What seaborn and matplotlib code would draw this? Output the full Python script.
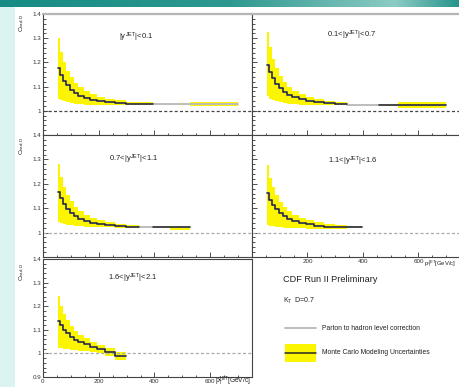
import numpy as np
import seaborn as sns
import matplotlib
matplotlib.use("Agg")
import matplotlib.pyplot as plt
from matplotlib.ticker import MultipleLocator, FuncFormatter, NullFormatter, FixedLocator
from matplotlib.patches import Rectangle
from matplotlib.lines import Line2D
from matplotlib.colors import LinearSegmentedColormap

# ---------------- data ----------------
edges = [54, 62, 72, 83, 96, 110, 127, 146, 169, 195, 224, 259, 298, 344, 396, 457, 527, 700]
nan = np.nan

region_labels = [r"$|y^{JET}|$<0.1", r"0.1<$|y^{JET}|$<0.7", r"0.7<$|y^{JET}|$<1.1",
                 r"1.1<$|y^{JET}|$<1.6", r"1.6<$|y^{JET}|$<2.1"]

# |y|<0.1
p1_mc = [1.176, 1.150, 1.125, 1.105, 1.088, 1.073, 1.062, 1.053, 1.046, 1.040, 1.036, 1.032, 1.030, 1.030, nan, nan, nan]
p1_had = [1.176, 1.150, 1.125, 1.105, 1.088, 1.073, 1.062, 1.053, 1.046, 1.040, 1.036, 1.032, 1.030, 1.030, 1.029, 1.029, 1.028]
p1_up = [1.300, 1.245, 1.200, 1.165, 1.138, 1.115, 1.097, 1.081, 1.068, 1.057, 1.049, 1.043, 1.038, 1.035, 1.033, nan, 1.035]
p1_lo = [1.048, 1.045, 1.040, 1.036, 1.032, 1.030, 1.028, 1.026, 1.025, 1.024, 1.024, 1.024, 1.024, 1.025, 1.026, nan, 1.018]

# 0.1<|y|<0.7
p2_mc = [1.190, 1.160, 1.135, 1.112, 1.094, 1.079, 1.066, 1.056, 1.048, 1.042, 1.037, 1.033, 1.030, nan, nan, 1.022, 1.023]
p2_had = [1.190, 1.160, 1.135, 1.112, 1.094, 1.079, 1.066, 1.056, 1.048, 1.042, 1.037, 1.033, 1.030, 1.026, 1.025, 1.022, 1.023]
p2_up = [1.326, 1.265, 1.215, 1.175, 1.145, 1.120, 1.100, 1.082, 1.068, 1.057, 1.048, 1.042, 1.037, nan, nan, nan, 1.038]
p2_lo = [1.060, 1.050, 1.045, 1.040, 1.035, 1.032, 1.030, 1.028, 1.026, 1.025, 1.024, 1.024, 1.024, nan, nan, nan, 1.011]

# 0.7<|y|<1.1
p3_mc = [1.165, 1.140, 1.118, 1.098, 1.082, 1.068, 1.057, 1.048, 1.040, 1.035, 1.030, 1.027, 1.025, nan, 1.021, 1.021]
p3_had = [1.165, 1.140, 1.118, 1.098, 1.082, 1.068, 1.057, 1.048, 1.040, 1.035, 1.030, 1.027, 1.025, 1.023, 1.021, 1.021]
p3_up = [1.282, 1.228, 1.187, 1.155, 1.128, 1.105, 1.087, 1.072, 1.060, 1.050, 1.042, 1.036, 1.032, nan, nan, 1.022]
p3_lo = [1.045, 1.040, 1.036, 1.033, 1.030, 1.028, 1.026, 1.024, 1.023, 1.022, 1.021, 1.020, 1.020, nan, nan, 1.011]

# 1.1<|y|<1.6
p4_mc = [1.161, 1.135, 1.113, 1.095, 1.080, 1.067, 1.056, 1.047, 1.040, 1.034, 1.029, 1.025, 1.022, 1.021]
p4_had = [1.161, 1.135, 1.113, 1.095, 1.080, 1.067, 1.056, 1.047, 1.040, 1.034, 1.029, 1.025, 1.022, 1.021]
p4_up = [1.278, 1.225, 1.185, 1.153, 1.127, 1.105, 1.087, 1.072, 1.060, 1.050, 1.042, 1.035, 1.030, nan]
p4_lo = [1.031, 1.028, 1.026, 1.024, 1.022, 1.020, 1.018, 1.017, 1.017, 1.016, 1.016, 1.016, 1.016, nan]

# 1.6<|y|<2.1
p5_mc = [1.138, 1.120, 1.100, 1.085, 1.070, 1.058, 1.048, 1.038, 1.028, 1.018, 1.007, 0.990]
p5_had = [1.138, 1.120, 1.100, 1.085, 1.070, 1.058, 1.048, 1.038, 1.028, 1.018, 1.007, 0.990]
p5_up = [1.242, 1.200, 1.168, 1.140, 1.117, 1.097, 1.080, 1.064, 1.050, 1.036, 1.022, 1.006]
p5_lo = [1.024, 1.022, 1.020, 1.018, 1.016, 1.014, 1.012, 1.010, 1.007, 1.000, 0.990, 0.972]

x_ticks = [0, 200, 400, 600]
y_ticks = [1.0, 1.1, 1.2, 1.3, 1.4]

# ---------------- style ----------------
sns.set_theme(style="ticks")
plt.rcParams["font.family"] = ["Liberation Sans", "DejaVu Sans"]
plt.rcParams["mathtext.fontset"] = "custom"
plt.rcParams["mathtext.rm"] = "Liberation Sans"
plt.rcParams["mathtext.it"] = "Liberation Sans"
plt.rcParams["mathtext.bf"] = "Liberation Sans:bold"

W, H = 460, 387
fig = plt.figure(figsize=(W / 100, H / 100), dpi=100)
fig.patch.set_facecolor("white")

YELLOW = "#fbf500"
GRAY = "#bdbdbd"
BLACK = "#262626"


def pos(x0, y0, x1, y1):
    return [x0 / W, 1 - y1 / H, (x1 - x0) / W, (y1 - y0) / H]


def segments(vals):
    segs, start = [], None
    for i, v in enumerate(vals + [nan]):
        if not np.isnan(v) and start is None:
            start = i
        elif np.isnan(v) and start is not None:
            segs.append((start, i - 1))
            start = None
    return segs


def draw_line(ax, vals, color, lw):
    for i, j in segments(list(vals)):
        x = edges[i:j + 2]
        y = list(vals[i:j + 1]) + [vals[j]]
        sns.lineplot(x=x, y=y, ax=ax, drawstyle="steps-post", color=color, lw=lw,
                     estimator=None, sort=False, legend=False)


def draw_band(ax, lo, up):
    for i, j in segments(list(up)):
        x = edges[i:j + 2]
        ax.fill_between(x, list(lo[i:j + 1]) + [lo[j]], list(up[i:j + 1]) + [up[j]],
                        step="post", color=YELLOW, lw=0)


panels = [
    (pos(43, 14, 252, 135), p1_mc, p1_had, p1_up, p1_lo, 0, "#444444", (333, 1.305), True, False),
    (pos(252, 14, 460, 135), p2_mc, p2_had, p2_up, p2_lo, 1, "#444444", (360, 1.31), False, False),
    (pos(43, 135, 252, 257), p3_mc, p3_had, p3_up, p3_lo, 2, "#aaaaaa", (325, 1.30), True, False),
    (pos(252, 135, 460, 257), p4_mc, p4_had, p4_up, p4_lo, 3, "#aaaaaa", (364, 1.29), False, True),
    (pos(43, 259, 252, 377), p5_mc, p5_had, p5_up, p5_lo, 4, "#aaaaaa", (321, 1.32), True, True),
]

yfmt = FuncFormatter(lambda v, p: "%g" % round(v, 2))
for k, (rect, mc, had, up, lo, li, dcol, tpos, ylab, xlab) in enumerate(panels):
    ax = fig.add_axes(rect)
    ax.set_xlim(0, 750)
    ax.set_ylim(0.9, 1.4)
    ax.set_facecolor("white")
    draw_band(ax, lo, up)
    ax.axhline(1.0, color=dcol, lw=0.9, ls=(0, (2.4, 1.8)), zorder=1)
    draw_line(ax, had, GRAY, 1.4)
    draw_line(ax, mc, BLACK, 1.1)
    ax.text(tpos[0], tpos[1], region_labels[li], fontsize=5.5, ha="center", va="center",
            color="#222222")
    ax.xaxis.set_major_locator(FixedLocator(x_ticks))
    ax.xaxis.set_minor_locator(MultipleLocator(50))
    yt = y_ticks + ([0.9] if k == 4 else [])
    ax.yaxis.set_major_locator(FixedLocator(yt))
    ax.yaxis.set_minor_locator(MultipleLocator(0.02))
    ax.tick_params(which="both", direction="in", top=False, right=False,
                   width=0.6, colors="#333333", labelsize=4.5, pad=1.5)
    ax.tick_params(which="major", length=3.5)
    ax.tick_params(which="minor", length=1.8)
    if ylab:
        ax.yaxis.set_major_formatter(yfmt)
    else:
        ax.yaxis.set_major_formatter(NullFormatter())
    if xlab:
        if k == 4:
            ax.xaxis.set_major_formatter(FuncFormatter(lambda v, p: "%d" % v))
        else:
            ax.xaxis.set_major_formatter(FuncFormatter(lambda v, p: "" if v == 0 else "%d" % v))
    else:
        ax.xaxis.set_major_formatter(NullFormatter())
    ax.set_xlabel("")
    ax.set_ylabel("")
    for side in ["left", "bottom", "right", "top"]:
        ax.spines[side].set_visible(True)
        ax.spines[side].set_color("#444444")
        ax.spines[side].set_linewidth(0.8)
    if k in (0, 1):
        ax.spines["top"].set_color("#b5b5b5")
        ax.spines["top"].set_linewidth(1.6)
    if k in (1, 3):
        ax.spines["right"].set_color("#b5b5b5")
        ax.spines["right"].set_linewidth(1.2)

# y-axis titles
for ytop in (13, 136, 262):
    fig.text(22 / W, 1 - ytop / H, r"C$_{had,D}$", rotation=90, fontsize=4.5,
             ha="center", va="top", color="#222222")

# x-axis titles
fig.text(215 / W, 1 - 381 / H, r"p$_T^{JET}$[GeV/c]", fontsize=4.8, ha="left", va="center",
         color="#222222")
fig.text(424 / W, 1 - 264 / H, r"p$_T^{JET}$[GeV/c]", fontsize=4.2, ha="left", va="center",
         color="#222222")

# legend block
fig.text(283 / W, 1 - 280 / H, "CDF Run II Preliminary", fontsize=6.6, ha="left", va="center",
         color="#222222")
fig.text(283 / W, 1 - 301 / H, r"K$_T$  D=0.7", fontsize=5.0, ha="left", va="center",
         color="#222222")
fig.add_artist(Line2D([285 / W, 316 / W], [1 - 328 / H, 1 - 328 / H], color=GRAY, lw=1.4,
                      transform=fig.transFigure))
fig.text(322 / W, 1 - 328 / H, "Parton to hadron level correction", fontsize=4.9,
         ha="left", va="center", color="#222222")
fig.add_artist(Rectangle((285 / W, 1 - 362 / H), 31 / W, 18 / H, facecolor=YELLOW,
                         edgecolor="none", transform=fig.transFigure))
fig.add_artist(Line2D([285 / W, 316 / W], [1 - 353 / H, 1 - 353 / H], color=BLACK, lw=1.1,
                      transform=fig.transFigure))
fig.text(322 / W, 1 - 353 / H, "Monte Carlo Modeling Uncertainties", fontsize=4.9,
         ha="left", va="center", color="#222222")

# slide decorations: left strip and header bar
fig.add_artist(Rectangle((0, 0), 15 / W, 1, facecolor="#dcf4f1", edgecolor="none",
                         transform=fig.transFigure, zorder=-5))
hax = fig.add_axes([0, 1 - 7 / H, 1, 7 / H])
grad = np.linspace(0, 1, 256)
cmap = LinearSegmentedColormap.from_list("hdr", [(0, "#168c84"), (0.5, "#2d988f"),
                                                  (0.86, "#8ccbc5"), (1.0, "#24948b")])
hax.imshow(grad[None, :], aspect="auto", cmap=cmap, extent=[0, 1, 0, 1])
hax.set_axis_off()

fig.savefig("out.png", dpi=100)
